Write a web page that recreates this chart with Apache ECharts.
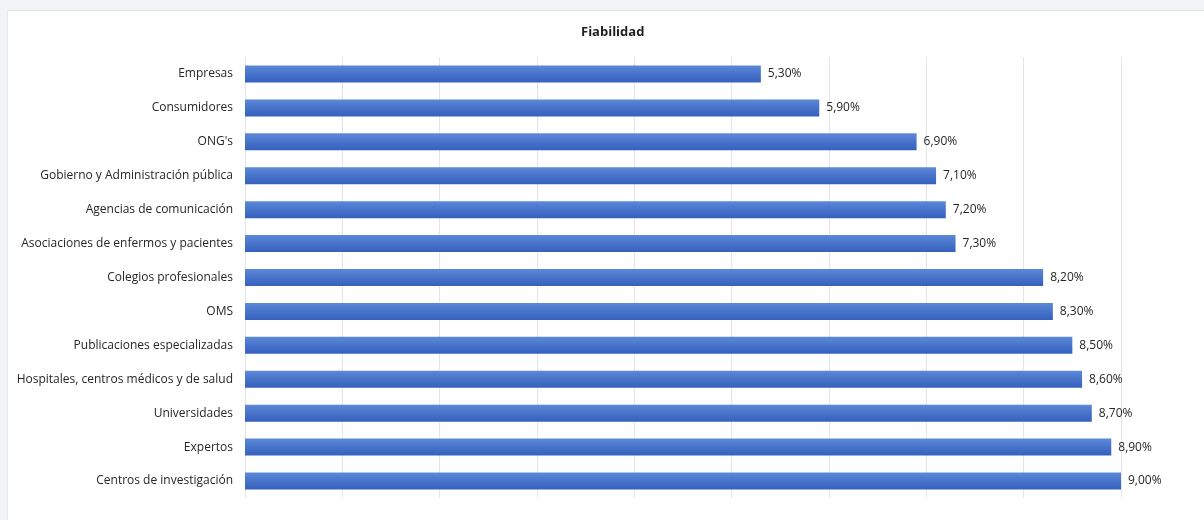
<!DOCTYPE html>
<html>
<head>
<meta charset="utf-8">
<script src="https://cdn.jsdelivr.net/npm/echarts@6/dist/echarts.min.js"></script>
<style>
  html, body { margin: 0; padding: 0; background: #f2f3f5; }
  #panel {
    position: absolute; left: 7px; top: 10px; width: 1197px; height: 510px;
    background: #ffffff; border-top: 1px solid #e2e3e6; border-left: 1px solid #e8e9ec;
    box-sizing: border-box;
  }
  #chart { width: 100%; height: 100%; }
</style>
</head>
<body>
<div id="panel"><div id="chart"></div></div>
<script>
// Fuentes valoradas, de arriba abajo
const categories = [
  'Empresas',
  'Consumidores',
  "ONG's",
  'Gobierno y Administración pública',
  'Agencias de comunicación',
  'Asociaciones de enfermos y pacientes',
  'Colegios profesionales',
  'OMS',
  'Publicaciones especializadas',
  'Hospitales, centros médicos y de salud',
  'Universidades',
  'Expertos',
  'Centros de investigación'
];
const values = [5.3, 5.9, 6.9, 7.1, 7.2, 7.3, 8.2, 8.3, 8.5, 8.6, 8.7, 8.9, 9.0];
const chartTitle = 'Fiabilidad';

const font = '"Open Sans", "Noto Sans", sans-serif';
const chart = echarts.init(document.getElementById('chart'), null, { renderer: 'canvas' });

chart.setOption({
  animation: false,
  title: {
    text: chartTitle,
    left: 568,
    top: 10,
    textStyle: { fontFamily: font, fontSize: 13, fontWeight: 'bold', color: '#1f1f1f' }
  },
  grid: { left: 237, right: 83, top: 46, bottom: 22, containLabel: false },
  xAxis: {
    type: 'value',
    min: 0,
    max: 9,
    interval: 1,
    axisLabel: { show: false },
    axisLine: { show: false },
    axisTick: { show: false },
    splitLine: { show: true, lineStyle: { color: '#e3e5ea', width: 1 } }
  },
  yAxis: {
    type: 'category',
    data: categories,
    inverse: true,
    axisLine: { show: false },
    axisTick: { show: false },
    axisLabel: { fontFamily: font, fontSize: 12, color: '#262626', margin: 12 }
  },
  series: [{
    type: 'bar',
    data: values,
    barWidth: 17,
    itemStyle: {
      color: new echarts.graphic.LinearGradient(0, 0, 0, 1, [
        { offset: 0, color: '#5d89d8' },
        { offset: 0.5, color: '#4773ca' },
        { offset: 1, color: '#3561bf' }
      ])
    },
    label: {
      show: true,
      position: 'right',
      distance: 7,
      fontFamily: font,
      fontSize: 12,
      color: '#262626',
      formatter: p => p.value.toFixed(2).replace('.', ',') + '%'
    }
  }]
});
</script>
</body>
</html>
